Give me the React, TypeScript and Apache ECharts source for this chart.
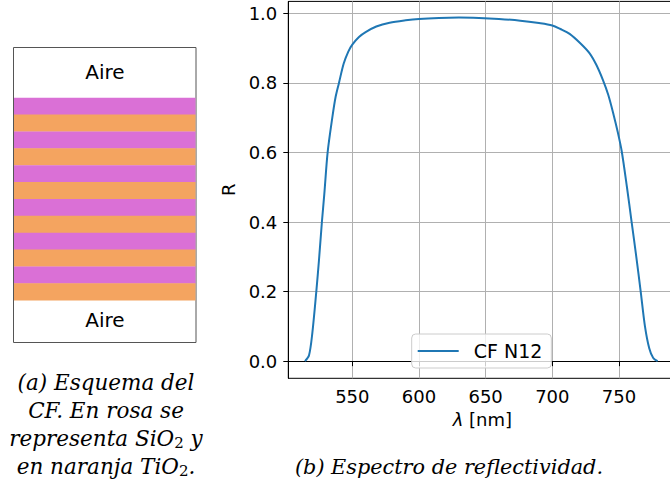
import React, { useEffect, useRef } from 'react';
import * as echarts from 'echarts';

// ---- data ----
const wavelengths = [
  514.5, 517.5, 520.0, 523.0, 525.0, 527.2, 529.0, 531.5, 535.0, 537.5, 540.0, 543.5, 547.0, 550.0,
  555.0, 560.0, 568.0, 578.0, 590.0, 600.0, 615.0, 630.0, 645.0, 660.0, 676.0, 690.0, 700.0, 706.0,
  713.0, 721.0, 728.0, 733.0, 738.0, 742.0, 746.0, 749.0, 752.0, 756.0, 759.5, 763.0, 766.3, 769.5,
  772.7, 775.7, 779.0,
];
const reflectance = [
  0.0, 0.016, 0.08, 0.2, 0.29, 0.4, 0.48, 0.6, 0.7, 0.76, 0.8, 0.855, 0.89, 0.91,
  0.932, 0.946, 0.962, 0.973, 0.98, 0.984, 0.9868, 0.9878, 0.9866, 0.9838, 0.979, 0.972, 0.965, 0.955,
  0.941, 0.914, 0.885, 0.852, 0.808, 0.765, 0.708, 0.66, 0.605, 0.5, 0.4, 0.3, 0.2, 0.1,
  0.037, 0.009, 0.0,
];
const seriesName = 'CF N12';
const xTicks = [550, 600, 650, 700, 750];
const yTicks = [0, 0.2, 0.4, 0.6, 0.8, 1.0];
const xAxisName = '{l|λ} [nm]';
const yAxisName = 'R';

// stack of the filter, top to bottom
const layers = ['SiO2', 'TiO2', 'SiO2', 'TiO2', 'SiO2', 'TiO2', 'SiO2', 'TiO2', 'SiO2', 'TiO2', 'SiO2', 'TiO2'];
const layerColors: Record<string, string> = { SiO2: '#DA70D6', TiO2: '#F4A460' };
const mediumLabel = 'Aire';

// captions (rich-text tokens: i = italic text, s = subscript)
const captionA = [
  '{i|(a) Esquema del}',
  '{i|CF. En rosa se}',
  '{i|representa SiO}{s|2}{i| y}',
  '{i|en naranja TiO}{s|2}{i|.}',
];
const captionB = '{i|(b) Espectro de reflectividad.}';

export default function App() {
  const ref = useRef<HTMLDivElement>(null);

  useEffect(() => {
    if (!ref.current) return;
    const chart = echarts.init(ref.current, undefined, { renderer: 'svg' });

    const boxX = 13.5, boxY = 47.5, boxW = 182.5, boxH = 295;
    const stackTop = 97.7, stackBottom = 300.2;
    const h = (stackBottom - stackTop) / layers.length;

    const capRichA = {
      i: { fontFamily: 'DejaVu Serif', fontStyle: 'italic', fontSize: 21.5, lineHeight: 24, fill: '#000', color: '#000' },
      s: { fontFamily: 'DejaVu Serif', fontSize: 15, lineHeight: 14, verticalAlign: 'bottom', fill: '#000', color: '#000' },
    };
    const capRichB = {
      i: { fontFamily: 'DejaVu Serif', fontStyle: 'italic', fontSize: 20.8, lineHeight: 24, fill: '#000', color: '#000' },
    };

    const graphics: any[] = [
      {
        type: 'rect',
        shape: { x: boxX, y: boxY, width: boxW, height: boxH },
        style: { fill: '#fff', stroke: '#555', lineWidth: 1 },
        z: 1,
      },
      ...layers.map((m, i) => ({
        type: 'rect',
        shape: { x: boxX + 0.5, y: stackTop + i * h, width: boxW - 1, height: h + 0.3 },
        style: { fill: layerColors[m] },
        z: 2,
      })),
      {
        type: 'text', x: 105, y: 72.3, z: 3,
        style: { text: mediumLabel, font: '20px "DejaVu Sans"', fill: '#000', align: 'center', verticalAlign: 'middle' },
      },
      {
        type: 'text', x: 105, y: 319.5, z: 3,
        style: { text: mediumLabel, font: '20px "DejaVu Sans"', fill: '#000', align: 'center', verticalAlign: 'middle' },
      },
      ...captionA.map((t, i) => ({
        type: 'text', x: 106, y: 382.5 + i * 28, z: 3,
        style: { text: t, rich: capRichA, align: 'center', verticalAlign: 'middle', fill: '#000' },
      })),
      {
        type: 'text', x: 449, y: 466.5, z: 3,
        style: { text: captionB, rich: capRichB, align: 'center', verticalAlign: 'middle', fill: '#000' },
      },
    ];

    const labelFont = { fontFamily: 'DejaVu Sans', fontSize: 18, color: '#000' };

    chart.setOption({
      animation: false,
      grid: {
        left: 288.3, top: 1.4, width: 388, height: 376.9,
        show: true, borderColor: '#000', borderWidth: 1, backgroundColor: 'transparent',
        containLabel: false,
      },
      xAxis: {
        type: 'value', min: 502, max: 793,
        name: xAxisName, nameLocation: 'middle', nameGap: 32,
        nameTextStyle: {
          ...labelFont,
          rich: { l: { fontFamily: 'DejaVu Sans', fontStyle: 'italic', fontSize: 18, color: '#000' } },
        },
        axisLine: { show: true, lineStyle: { color: '#000', width: 1 } },
        axisTick: { show: true, inside: false, length: 5, customValues: xTicks, lineStyle: { color: '#000', width: 1 } },
        axisLabel: { ...labelFont, margin: 9, customValues: xTicks },
        splitLine: { show: true, lineStyle: { color: '#b0b0b0', width: 1 } },
      },
      yAxis: {
        type: 'value', min: -0.0493, max: 1.0343,
        name: yAxisName, nameLocation: 'middle', nameGap: 47,
        nameTextStyle: { ...labelFont },
        axisLine: { show: true, lineStyle: { color: '#000', width: 1 } },
        axisTick: { show: true, inside: false, length: 5, customValues: yTicks, lineStyle: { color: '#000', width: 1 } },
        axisLabel: { ...labelFont, margin: 11, customValues: yTicks, formatter: (v: number) => v.toFixed(1) },
        splitLine: { show: true, lineStyle: { color: '#b0b0b0', width: 1 } },
      },
      legend: {
        left: 411.7, top: 334,
        data: [{ name: seriesName, icon: 'rect' }],
        itemWidth: 41, itemHeight: 2,
        padding: [7.5, 9, 7.5, 6],
        borderColor: '#cccccc', borderWidth: 1, borderRadius: 4,
        backgroundColor: 'rgba(255,255,255,0.8)',
        textStyle: { fontFamily: 'DejaVu Sans', fontSize: 19, color: '#000', padding: [0, 0, 0, 10] },
      },
      series: [
        {
          name: seriesName,
          type: 'line',
          data: wavelengths.map((w, i) => [w, reflectance[i]]),
          symbol: 'none',
          showSymbol: false,
          smooth: 0.3,
          lineStyle: { color: '#1f77b4', width: 2 },
          itemStyle: { color: '#1f77b4' },
        },
      ],
      graphic: graphics,
    });

    return () => chart.dispose();
  }, []);

  return (
    <div style={{ position: 'absolute', left: 0, top: 0, width: 670, height: 490, overflow: 'hidden', background: '#fff' }}>
      <div ref={ref} style={{ width: 690, height: 490 }} />
    </div>
  );
}
